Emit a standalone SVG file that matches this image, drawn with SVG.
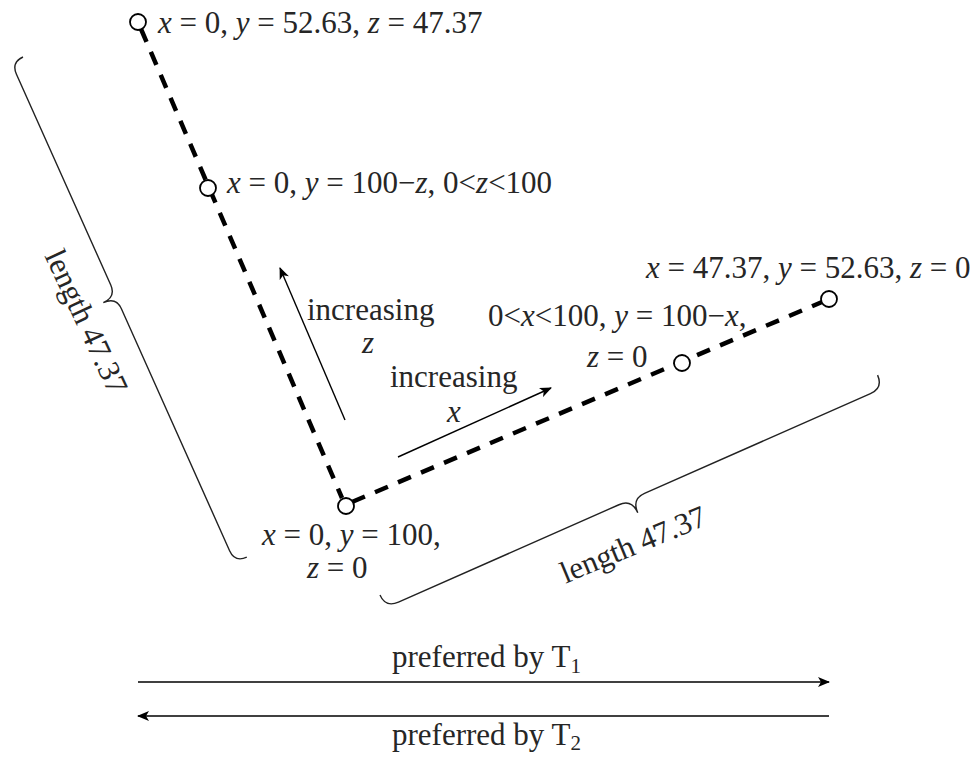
<svg xmlns="http://www.w3.org/2000/svg" width="976" height="757" viewBox="0 0 976 757">
<defs>
<marker id="ah" viewBox="0 0 12 10" refX="11" refY="5" markerWidth="13" markerHeight="10" markerUnits="userSpaceOnUse" orient="auto"><path d="M0,0 L12,5 L0,10 L3,5 z" fill="#000"/></marker>
</defs>
<style>
text{font-family:"Liberation Serif","Times New Roman",serif;font-size:31px;fill:#262626}
.i{font-style:italic}
.pt{fill:#fff;stroke:#000;stroke-width:1.8}
.dash{stroke:#000;stroke-width:4.5;stroke-dasharray:14 11;fill:none}
.arr{stroke:#000;stroke-width:1.4;fill:none;marker-end:url(#ah)}
.brace{stroke:#222;stroke-width:1.4;fill:none}
</style>
<rect width="976" height="757" fill="#fff"/>
<g id="connectors">
<line class="dash" x1="141" y1="29" x2="342" y2="498"/>
<line class="dash" x1="352" y1="502" x2="822" y2="302"/>
<line class="arr" x1="345" y1="420" x2="280" y2="268"/>
<line class="arr" x1="398" y1="457" x2="551" y2="388"/>
<line class="arr" x1="138" y1="682" x2="829" y2="682"/>
<line class="arr" x1="829" y1="716" x2="138" y2="716"/>
</g>
<g id="n-top">
<circle class="pt" cx="138" cy="22" r="8"/>
<text x="158" y="33"><tspan class="i">x</tspan> = 0, <tspan class="i">y</tspan> = 52.63, <tspan class="i">z</tspan> = 47.37</text>
</g>
<g id="n-zline">
<circle class="pt" cx="208" cy="188" r="8"/>
<text x="227" y="193"><tspan class="i">x</tspan> = 0, <tspan class="i">y</tspan> = 100−<tspan class="i">z</tspan>, 0&lt;<tspan class="i">z</tspan>&lt;100</text>
</g>
<g id="n-corner">
<circle class="pt" cx="346" cy="506" r="8"/>
<text x="262" y="545"><tspan class="i">x</tspan> = 0, <tspan class="i">y</tspan> = 100,</text>
<text x="307" y="578"><tspan class="i">z</tspan> = 0</text>
</g>
<g id="n-xline">
<circle class="pt" cx="682" cy="363" r="8"/>
<text x="488" y="326">0&lt;<tspan class="i">x</tspan>&lt;100, <tspan class="i">y</tspan> = 100−<tspan class="i">x</tspan>,</text>
<text x="587" y="367"><tspan class="i">z</tspan> = 0</text>
</g>
<g id="n-right">
<circle class="pt" cx="829" cy="299" r="8"/>
<text x="646" y="278"><tspan class="i">x</tspan> = 47.37, <tspan class="i">y</tspan> = 52.63, <tspan class="i">z</tspan> = 0</text>
</g>
<g id="labels">
<text x="307" y="320">increasing</text>
<text x="362" y="353" class="i">z</text>
<text x="390" y="387">increasing</text>
<text x="447" y="422" class="i">x</text>
<text x="392" y="667">preferred by T<tspan font-size="21" dy="6">1</tspan></text>
<text x="392" y="745">preferred by T<tspan font-size="21" dy="5">2</tspan></text>
</g>
<g id="brace-left">
<path class="brace" transform="translate(23,57) rotate(65.9)" d="M0,0 Q0,13 13,13 L244,13 Q257,13 257,27 Q257,13 270,13 L535,13 Q548,13 548,0"/>
<text transform="translate(77,326) rotate(65)" text-anchor="middle">length 47.37</text>
</g>
<g id="brace-bottom">
<path class="brace" transform="translate(380,595) rotate(-23.84)" d="M0,0 Q0,14 14,14 L255,14 Q269,14 269,29 Q269,14 283,14 L530,14 Q544,14 544,0"/>
<text transform="translate(637,554) rotate(-22.5)" text-anchor="middle">length 47.37</text>
</g>
</svg>
